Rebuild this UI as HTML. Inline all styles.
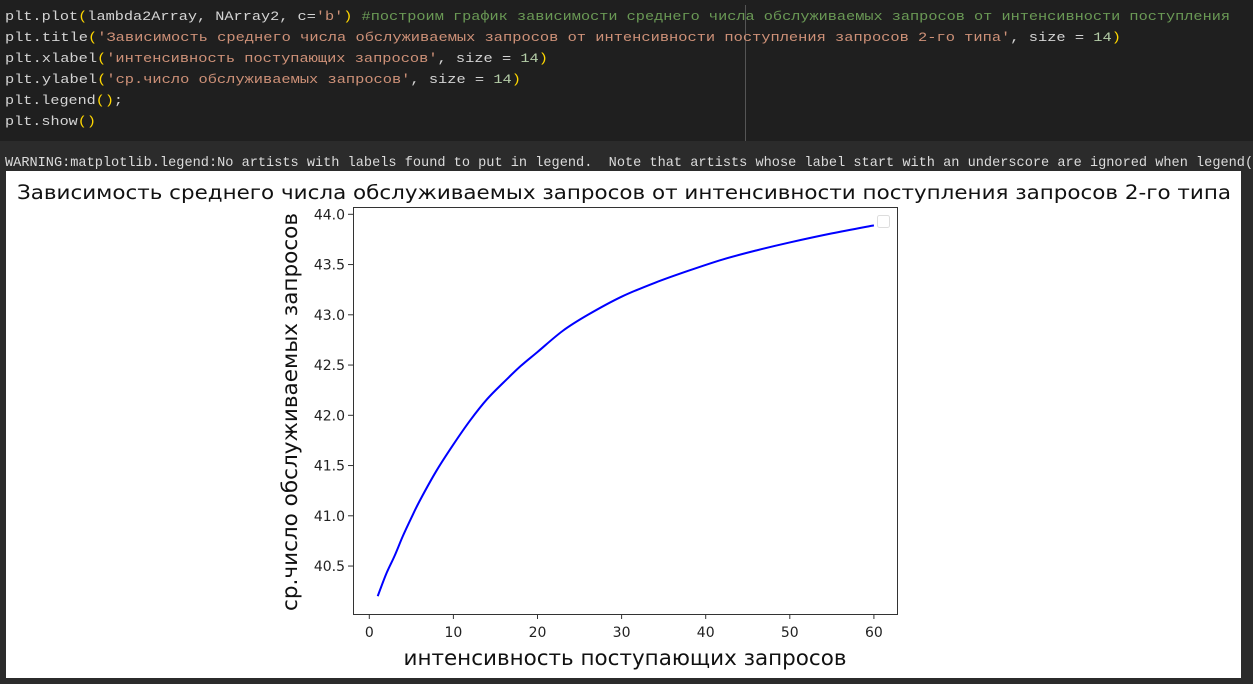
<!DOCTYPE html>
<html><head><meta charset="utf-8"><style>
html,body{margin:0;padding:0;background:#1f1f1f;}
svg{display:block}
.code{font-family:"Liberation Mono",monospace;font-size:13px;}
</style></head><body>
<svg width="1253" height="684" xmlns="http://www.w3.org/2000/svg">
<rect x="0" y="0" width="1253" height="141" fill="#1f1f1f"/>
<line x1="745.5" y1="5" x2="745.5" y2="141" stroke="#555"/>
<g class="code">
<text x="5" y="20" textLength="1225" lengthAdjust="spacingAndGlyphs"><tspan fill="#d4d4d4">plt.plot</tspan><tspan fill="#ffd700">(</tspan><tspan fill="#d4d4d4">lambda2Array, NArray2, c=</tspan><tspan fill="#ce9178">'b'</tspan><tspan fill="#ffd700">)</tspan><tspan fill="#6a9955"> #построим график зависимости среднего числа обслуживаемых запросов от интенсивности поступления</tspan></text>
<text x="5" y="41" textLength="1116" lengthAdjust="spacingAndGlyphs"><tspan fill="#d4d4d4">plt.title</tspan><tspan fill="#ffd700">(</tspan><tspan fill="#ce9178">'Зависимость среднего числа обслуживаемых запросов от интенсивности поступления запросов 2-го типа'</tspan><tspan fill="#d4d4d4">, size = </tspan><tspan fill="#b5cea8">14</tspan><tspan fill="#ffd700">)</tspan></text>
<text x="5" y="62" textLength="543" lengthAdjust="spacingAndGlyphs"><tspan fill="#d4d4d4">plt.xlabel</tspan><tspan fill="#ffd700">(</tspan><tspan fill="#ce9178">'интенсивность поступающих запросов'</tspan><tspan fill="#d4d4d4">, size = </tspan><tspan fill="#b5cea8">14</tspan><tspan fill="#ffd700">)</tspan></text>
<text x="5" y="83" textLength="516" lengthAdjust="spacingAndGlyphs"><tspan fill="#d4d4d4">plt.ylabel</tspan><tspan fill="#ffd700">(</tspan><tspan fill="#ce9178">'ср.число обслуживаемых запросов'</tspan><tspan fill="#d4d4d4">, size = </tspan><tspan fill="#b5cea8">14</tspan><tspan fill="#ffd700">)</tspan></text>
<text x="5" y="104" textLength="118" lengthAdjust="spacingAndGlyphs"><tspan fill="#d4d4d4">plt.legend</tspan><tspan fill="#ffd700">()</tspan><tspan fill="#d4d4d4">;</tspan></text>
<text x="5" y="125" textLength="91" lengthAdjust="spacingAndGlyphs"><tspan fill="#d4d4d4">plt.show</tspan><tspan fill="#ffd700">()</tspan></text>
</g>
<rect x="0" y="141" width="1253" height="543" fill="#2b2b2b"/>
<text x="5" y="166" fill="#dcdcdc" font-family="Liberation Mono, monospace" font-size="13.6px">WARNING:matplotlib.legend:No artists with labels found to put in legend.&#160; Note that artists whose label start with an underscore are ignored when legend() is called with no argument.</text>
<rect x="6" y="171" width="1235" height="507" fill="#ffffff"/>
<text x="624" y="199" text-anchor="middle" font-family="DejaVu Sans, Liberation Sans, sans-serif" font-size="19.4px" fill="#111" textLength="1214" lengthAdjust="spacingAndGlyphs">Зависимость среднего числа обслуживаемых запросов от интенсивности поступления запросов 2-го типа</text>
<g id="plot"></g>
<text x="625" y="665" text-anchor="middle" font-family="DejaVu Sans, Liberation Sans, sans-serif" font-size="21px" fill="#111" textLength="443" lengthAdjust="spacingAndGlyphs">интенсивность поступающих запросов</text>
<text transform="translate(297,412) rotate(-90)" text-anchor="middle" font-family="DejaVu Sans, Liberation Sans, sans-serif" font-size="21px" fill="#111" textLength="398" lengthAdjust="spacingAndGlyphs">ср.число обслуживаемых запросов</text>
</svg>
<script>
const xValues = [1,2,3,4,5,6,8,10,12,14,16,18,20,23,26,30,34,38,42,46,50,55,60];
const yValues = [40.20,40.42,40.60,40.80,40.98,41.15,41.45,41.71,41.95,42.16,42.33,42.49,42.63,42.84,43.00,43.18,43.32,43.44,43.55,43.64,43.72,43.81,43.89];
const xTicks = [0,10,20,30,40,50,60];
const yTicks = [40.5,41.0,41.5,42.0,42.5,43.0,43.5,44.0];

const NS = "http://www.w3.org/2000/svg";
const L = 353, R = 897, T = 207, B = 614;
function sx(v){ return 369.3 + (v - 0) * 8.41; }
function sy(v){ return 214.3 + (44 - v) * 100.5; }
const g = document.getElementById('plot');
function mk(tag, attrs){ const e = document.createElementNS(NS, tag); for (const k in attrs) e.setAttribute(k, attrs[k]); g.appendChild(e); return e; }

// smooth path via Catmull-Rom through data points
const pts = xValues.map((x,i)=>[sx(x), sy(yValues[i])]);
let d = 'M' + pts[0][0].toFixed(2) + ',' + pts[0][1].toFixed(2);
for (let i = 0; i < pts.length - 1; i++) {
  const p0 = pts[Math.max(0,i-1)], p1 = pts[i], p2 = pts[i+1], p3 = pts[Math.min(pts.length-1,i+2)];
  const c1x = p1[0] + (p2[0]-p0[0])/6, c1y = p1[1] + (p2[1]-p0[1])/6;
  const c2x = p2[0] - (p3[0]-p1[0])/6, c2y = p2[1] - (p3[1]-p1[1])/6;
  d += ' C' + c1x.toFixed(2)+','+c1y.toFixed(2)+' '+c2x.toFixed(2)+','+c2y.toFixed(2)+' '+p2[0].toFixed(2)+','+p2[1].toFixed(2);
}
const line = mk('path', {d: d, fill:'none', stroke:'#0000ff', 'stroke-width':'2', 'stroke-linejoin':'round'});



const frame = mk('rect', {x:L+0.5, y:T+0.5, width:R-L, height:B-T, fill:'none', stroke:'#333', 'stroke-width':'1'});



xTicks.forEach(t => {
  const x = sx(t);
  const tk = mk('line', {x1:x, y1:B, x2:x, y2:B+5, stroke:'#333'});
  
  
  const lb = mk('text', {x:x, y:B+23, 'text-anchor':'middle', 'font-family':'DejaVu Sans, Liberation Sans, sans-serif', 'font-size':'14px', fill:'#222'});
  lb.textContent = String(t);
  
  
});
yTicks.forEach(t => {
  const y = sy(t);
  const tk = mk('line', {x1:L-5, y1:y, x2:L, y2:y, stroke:'#333'});
  
  
  const lb = mk('text', {x:L-8, y:y+5, 'text-anchor':'end', 'font-family':'DejaVu Sans, Liberation Sans, sans-serif', 'font-size':'14px', fill:'#222'});
  lb.textContent = t.toFixed(1);
  
  
});
const leg = mk('rect', {x:877.5, y:215.5, width:12, height:12, rx:2, fill:'#fff', stroke:'#ddd'});


</script>
</body></html>
